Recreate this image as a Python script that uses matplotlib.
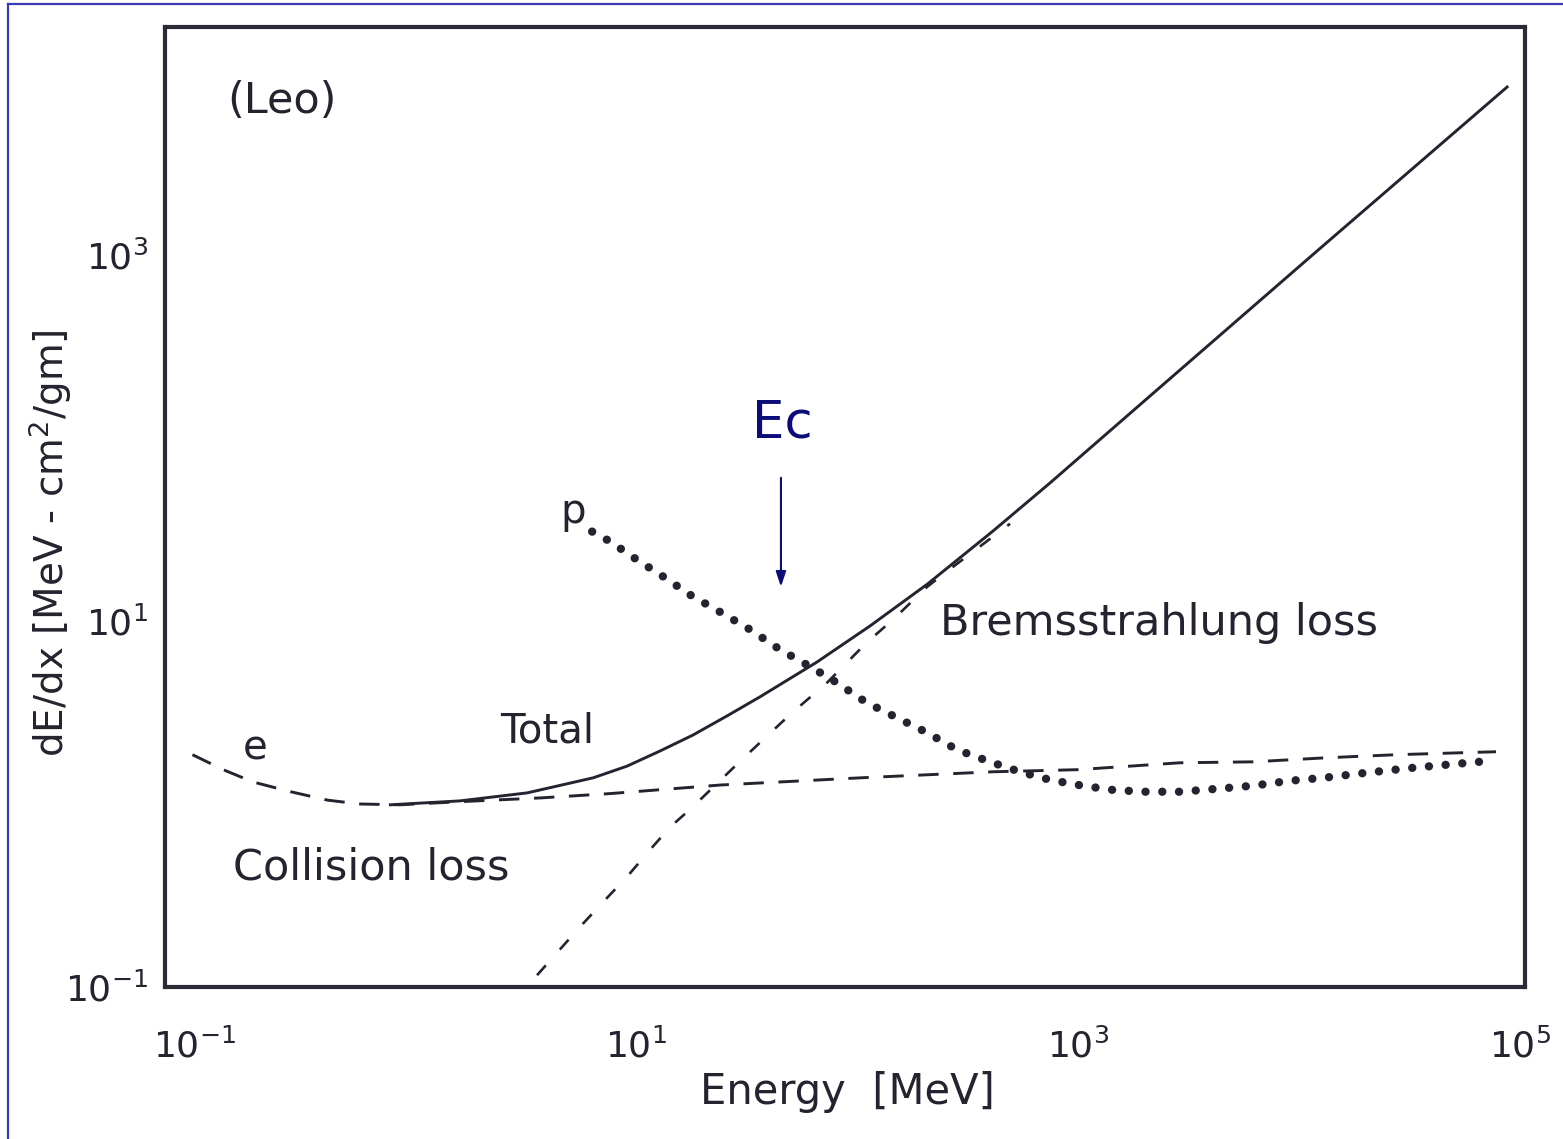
import matplotlib
matplotlib.use("Agg")
import matplotlib.pyplot as plt
from matplotlib.lines import Line2D

# energy loss of electrons (Leo)
e_coll_E = [0.098, 0.135, 0.184, 0.27, 0.40, 0.56, 0.85, 1.6, 3.7, 7.6,
            24, 103, 410, 985, 2880, 6170, 13300, 27600, 57300, 77400]
e_coll_dEdx = [1.86, 1.54, 1.32, 1.17, 1.05, 1.00, 0.99, 1.03, 1.08, 1.14,
               1.27, 1.39, 1.50, 1.54, 1.68, 1.70, 1.79, 1.86, 1.91, 1.93]

brems_E = [3.55, 5.55, 7.36, 9.06, 11.5, 14.2, 18.0, 30.0, 49.5, 72.8,
           110, 145, 207, 244, 490]
brems_dEdx = [0.116, 0.213, 0.307, 0.400, 0.561, 0.748, 0.966, 1.75, 3.08,
              4.60, 7.62, 10.2, 15.4, 18.0, 34.0]

total_E = [0.77, 1.59, 3.2, 6.37, 9.06, 12.8, 18.0, 25.7, 36.2, 65.6, 114,
           207, 410, 743, 2110, 12000, 86900]
total_dEdx = [0.99, 1.04, 1.15, 1.39, 1.61, 1.95, 2.38, 3.03, 3.85, 5.97,
              9.40, 15.9, 31.0, 56.8, 170, 1052, 8280]

p_E = [6.3, 7.6, 10.0, 13.2, 17.5, 23.9, 32.7, 44.6, 61.0, 80.7, 110, 151,
       207, 282, 398, 543, 743, 984, 1390, 1960, 2880, 4240, 6170, 9060,
       12800, 20200, 32700, 65600]
p_dEdx = [30.8, 27.2, 21.7, 17.5, 13.9, 11.2, 8.97, 6.98, 5.64, 4.60, 3.58,
          2.96, 2.45, 1.98, 1.70, 1.50, 1.355, 1.274, 1.197, 1.167, 1.167,
          1.211, 1.259, 1.340, 1.390, 1.483, 1.578, 1.702]

x_ticks = [1e-1, 1e1, 1e3, 1e5]
y_ticks = [1e-1, 1e1, 1e3]

ink = '#242430'
navy = '#0b0b7a'

fig = plt.figure(figsize=(15.63, 11.39), dpi=100)
ax = fig.add_axes([165/1563, 1 - 987/1139, 1360/1563, 960/1139])

ax.plot(e_coll_E, e_coll_dEdx, color=ink, lw=2.1, linestyle=(0, (7, 5)))
ax.plot(brems_E, brems_dEdx, color=ink, lw=1.9, linestyle=(0, (5, 8)))
ax.plot(total_E, total_dEdx, color=ink, lw=2.1)
ax.plot(p_E, p_dEdx, color=ink, lw=6, linestyle=(0, (0.01, 2.0)),
        dash_capstyle='round')

ax.set_xscale('log')
ax.set_yscale('log')
ax.set_xlim(10**-1.133, 10**5.02)
ax.set_ylim(0.1, 10**4.246)
ax.set_xticks(x_ticks)
ax.set_yticks(y_ticks)
ax.minorticks_off()
ax.tick_params(axis='both', length=0, labelsize=26, colors=ink)
ax.tick_params(axis='x', pad=30)
ax.tick_params(axis='y', pad=12)

for sp in ax.spines.values():
    sp.set_linewidth(3)
    sp.set_color('#2b2b38')

ax.set_xlabel('Energy  [MeV]', fontsize=30, color=ink)
ax.xaxis.label.set_va('center')
ax.xaxis.set_label_coords(0.502, -0.109)
ax.set_ylabel('dE/dx [MeV - cm$^2$/gm]', fontsize=28, color=ink)
ax.yaxis.label.set_va('center')
ax.yaxis.set_label_coords(-0.0846, 0.4625)

tr = ax.transAxes
ax.text(0.0456, 0.9104, '(Leo)', fontsize=31, color=ink, transform=tr, va='baseline')
ax.text(0.2904, 0.4830, 'p', fontsize=29, color=ink, transform=tr, va='baseline')
ax.text(0.5699, 0.3667, 'Bremsstrahlung loss', fontsize=31, color=ink, transform=tr, va='baseline')
ax.text(0.2463, 0.2542, 'Total', fontsize=29, color=ink, transform=tr, va='baseline')
ax.text(0.0574, 0.2365, 'e', fontsize=29, color=ink, transform=tr, va='baseline')
ax.text(0.05, 0.1115, 'Collision loss', fontsize=31, color=ink, transform=tr, va='baseline')

# critical energy marker
ax.text(0.4316, 0.5729, 'Ec', fontsize=37, color=navy, transform=tr, va='baseline')
ax.annotate('', xy=(0.4529, 0.4140), xytext=(0.4529, 0.5333), xycoords=tr,
            arrowprops=dict(arrowstyle='-|>,head_length=0.9,head_width=0.3',
                            mutation_scale=10, color=navy, lw=1.5))

# blue slide frame
fig.add_artist(Line2D([8/1563, 8/1563], [0, 1 - 4/1139], transform=fig.transFigure,
                      color='#3a3ab8', lw=1.6))
fig.add_artist(Line2D([8/1563, 1], [1 - 4/1139, 1 - 4/1139], transform=fig.transFigure,
                      color='#3a3ab8', lw=1.6))

fig.savefig('out.png', dpi=100, facecolor='white')
